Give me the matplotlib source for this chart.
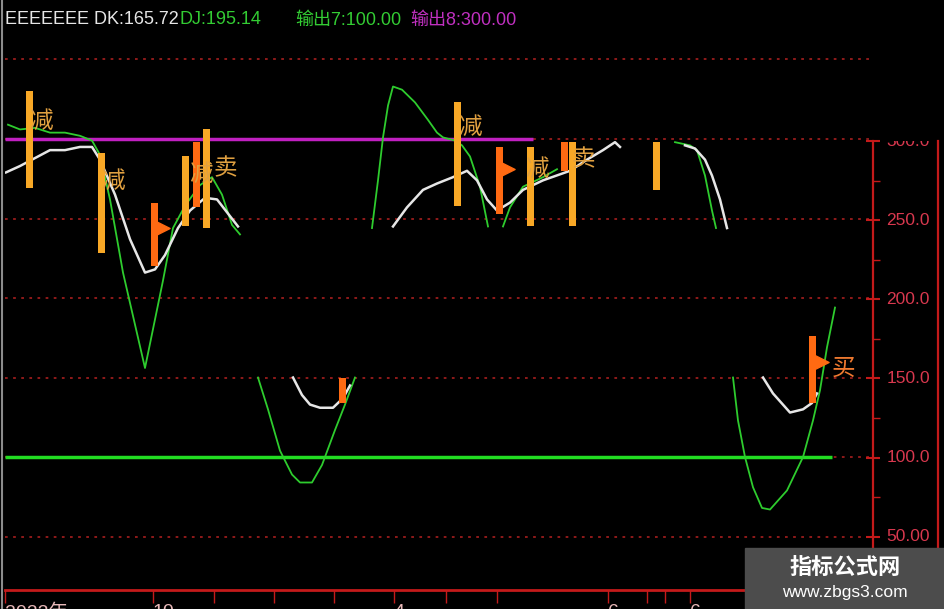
import matplotlib
matplotlib.use('Agg')
import matplotlib.pyplot as plt
from matplotlib.patches import Rectangle
from matplotlib.lines import Line2D

latin = 'Liberation Sans'
cjk = 'Noto Sans CJK SC'

# ---- data (x = bar position, value = price scale) ----
# green line (DJ), pieces that are visible
g1_x = [8, 20, 35, 50, 65, 80, 92, 100, 110, 123, 145, 163, 173, 185, 200, 212, 222, 232, 240]
g1_v = [309, 306, 307, 304, 304, 302, 299, 290, 262, 216, 156, 211, 244, 258, 271, 276, 265, 246, 240]
g2_x = [258, 268, 280, 292, 300, 312, 322, 335, 345, 355]
g2_v = [150, 130, 104, 89, 84, 84, 95, 117, 133, 150]
g3_x = [372, 378, 383, 388, 393, 402, 415, 428, 437, 443, 455, 462, 470, 480, 488]
g3_v = [244, 274, 301, 321, 333, 331, 323, 312, 304, 301, 299, 296, 289, 270, 245]
g3b_x = [503, 510, 523, 543, 557]
g3b_v = [245, 257, 270, 276, 281]
g4_x = [675, 690, 697, 705, 712, 716]
g4_v = [298, 296, 293, 277, 255, 244]
g5_x = [733, 738, 745, 753, 762, 770, 787, 803, 813, 820, 827, 835]
g5_v = [150, 123, 100, 81, 68, 67, 79, 100, 123, 142, 169, 194]

# white line (DK)
w1_x = [6, 20, 35, 50, 65, 80, 92, 100, 115, 130, 145, 155, 165, 178, 190, 205, 217, 238]
w1_v = [279, 283, 288, 293, 293, 295, 295, 287, 265, 237, 216, 218, 227, 244, 255, 263, 262, 245]
w2_x = [293, 302, 310, 320, 333, 343, 350]
w2_v = [150, 139, 133, 131, 131, 137, 145]
w3_x = [393, 407, 423, 437, 453, 467, 477, 487, 497, 510, 523, 543, 570, 587, 603, 615, 620]
w3_v = [245, 257, 268, 272, 276, 280, 274, 262, 255, 260, 268, 274, 280, 287, 293, 298, 295]
w4_x = [685, 695, 705, 712, 720, 727]
w4_v = [296, 294, 287, 277, 262, 244]
w5_x = [763, 773, 790, 803, 812, 817]
w5_v = [150, 140, 128, 130, 134, 140]

# yellow "减" bars
yb_x = [30, 102, 186, 207, 458, 531, 573, 657]
yb_lo = [269, 228, 245, 244, 258, 245, 245, 268]
yb_hi = [330, 291, 289, 306, 323, 295, 298, 298]

# orange "买" bars and their flags
ob_x = [155, 197, 343, 500, 565, 813]
ob_lo = [220, 257, 134, 253, 280, 134]
ob_hi = [260, 298, 150, 295, 298, 176]
flag_x = [162, 507, 821]
flag_v = [244, 281, 160]

# signal texts
sig_txt = ['减', '减', '减', '卖', '减', '减', '卖', '买']
sig_x = [41, 113, 201, 225, 470, 537, 583, 844]
sig_v = [311, 273, 278, 281, 307, 281, 287, 156]

out7 = 100.0
out8 = 300.0
levels = [50, 100, 150, 200, 250, 300, 350]
axis_labels = ['50.00', '100.0', '150.0', '200.0', '250.0', '300.0']
axis_vals = [50, 100, 150, 200, 250, 300]
date_ticks = [5, 153, 214, 274, 334, 394, 446, 497, 608, 647, 665, 690]
date_labels = ['2023年', '10', '', '', '', '4', '', '', '6', '', '', '6']

GREEN = '#2ECC2E'
WHITE = '#E6E6E6'
YEL = '#F8A826'
ORG = '#FF6A12'
RED = '#C41A1A'

fig = plt.figure(figsize=(9.45, 6.09), dpi=100, facecolor='black')
ax = fig.add_axes([5 / 945, 19 / 609, 868 / 945, 590 / 609])
ax.set_facecolor('black')
ax.set_xlim(5, 873)
ax.set_ylim(16.4, 387.4)

for lv in levels:
    ax.axhline(lv, color='#9A1C1C', ls=(0, (1.5, 3)), lw=1.3, zorder=1)

ax.hlines(out8, 5, 533, color='#C020C0', lw=2.5, zorder=3)
ax.hlines(out7, 5, 832, color='#22DD22', lw=2.5, zorder=3)

for gx, gv in [(g1_x, g1_v), (g2_x, g2_v), (g3_x, g3_v), (g3b_x, g3b_v), (g4_x, g4_v), (g5_x, g5_v)]:
    ax.plot(gx, gv, color=GREEN, lw=1.3, zorder=4)
for wx, wv in [(w1_x, w1_v), (w2_x, w2_v), (w3_x, w3_v), (w4_x, w4_v), (w5_x, w5_v)]:
    ax.plot(wx, wv, color=WHITE, lw=1.8, zorder=4)

ax.bar(yb_x, [h - l for h, l in zip(yb_hi, yb_lo)], bottom=yb_lo, width=7, color=YEL, zorder=5)
ax.bar(ob_x, [h - l for h, l in zip(ob_hi, ob_lo)], bottom=ob_lo, width=7, color=ORG, zorder=5)
ax.scatter(flag_x, flag_v, marker='>', s=120, color=ORG, zorder=5)

for t, x, v in zip(sig_txt, sig_x, sig_v):
    c = '#F07A30' if t == '买' else '#E0A040'
    ax.text(x, v, t, fontsize=17, color=c, family=cjk, ha='center', va='center', zorder=6)

for s in ['top', 'left', 'right']:
    ax.spines[s].set_visible(False)
ax.spines['bottom'].set_color(RED)
ax.spines['bottom'].set_linewidth(2)
ax.set_yticks([])
ax.set_xticks(date_ticks)
ax.set_xticklabels(date_labels, family=[latin, cjk], fontsize=14, color='#E8B8B8')
for lab in ax.get_xticklabels():
    lab.set_ha('left')
ax.tick_params(axis='x', colors=RED, length=9, width=1, pad=1, labelcolor='#E8B8B8')

# right price scale
rax = fig.add_axes([873 / 945, 19 / 609, 65 / 945, 449 / 609])
rax.set_facecolor('black')
rax.set_ylim(16.4, 298.7)
rax.set_xlim(0, 1)
for s in ['top', 'bottom']:
    rax.spines[s].set_visible(False)
for s in ['left', 'right']:
    rax.spines[s].set_color(RED)
    rax.spines[s].set_linewidth(1.6)
rax.set_xticks([])
rax.set_yticks(axis_vals)
rax.set_yticks([25, 75, 125, 175, 225, 275], minor=True)
rax.set_yticklabels([])
rax.tick_params(axis='y', which='major', direction='inout', length=10, color=RED, width=1.5)
rax.tick_params(axis='y', which='minor', direction='in', length=5, color=RED, width=1)
for lab, v in zip(axis_labels, axis_vals):
    rax.text(0.54, v, lab, transform=rax.get_yaxis_transform(), fontsize=12.5, color='#D8384E',
             family=latin, ha='center', va='center', clip_on=True)

# header
hy = (609 - 20) / 609
fig.text(5 / 945, hy, 'EEEEEEE DK:165.72', color='#E6E6E6', fontsize=13, family=latin, va='center')
fig.text(180 / 945, hy, 'DJ:195.14', color='#33CC33', fontsize=13, family=latin, va='center')
fig.text(295 / 945, hy, '输出7:100.00', color='#33CC33', fontsize=13, family=[latin, cjk], va='center')
fig.text(410 / 945, hy, '输出8:300.00', color='#C030C0', fontsize=13, family=[latin, cjk], va='center')

# left frame line
fig.add_artist(Line2D([2 / 945, 2 / 945], [0, 1], color='#8C8C8C', lw=1.5))

# watermark box
fig.add_artist(Rectangle((745 / 945, 0), 200 / 945, 61 / 609, transform=fig.transFigure,
                         color='#4C4C4C', zorder=10))
fig.text(845 / 945, (609 - 567) / 609, '指标公式网', color='white', fontsize=16, weight='bold',
         family=cjk, ha='center', va='center', zorder=11)
fig.text(845 / 945, (609 - 592) / 609, 'www.zbgs3.com', color='white', fontsize=12.5,
         family=[latin, cjk], ha='center', va='center', zorder=11)

fig.savefig('out.png', dpi=100, facecolor='black')
